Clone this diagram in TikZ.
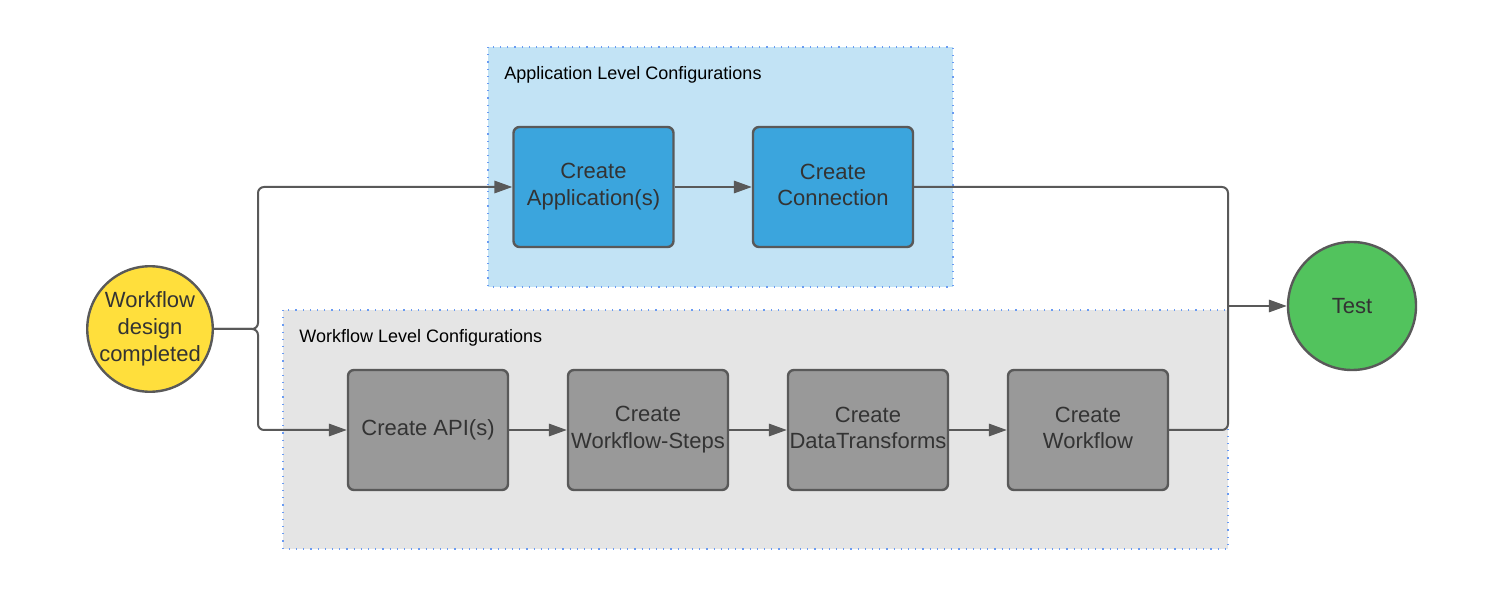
\documentclass[tikz,border=0pt]{standalone}
\usepackage{fontspec}
\setmainfont{Liberation Sans}
\usetikzlibrary{arrows.meta}
\definecolor{edge}{HTML}{595959}
\definecolor{txt}{HTML}{333333}
\definecolor{appbg}{HTML}{C2E3F5}
\definecolor{wfbg}{HTML}{E5E5E5}
\definecolor{dotblue}{HTML}{6A9BF2}
\definecolor{bluebox}{HTML}{3BA5DD}
\definecolor{graybox}{HTML}{999999}
\definecolor{startc}{HTML}{FFDF3C}
\definecolor{testc}{HTML}{52C35D}
\begin{document}
\begin{tikzpicture}[x=0.5pt,y=-0.5pt,
  container/.style={draw=dotblue,line width=0.6pt,dash pattern=on 0.6pt off 3pt},
  grouplabel/.style={anchor=west,inner sep=0pt,font=\fontsize{9}{11}\selectfont,text=black},
  stepbox/.style={draw=edge,line width=1.2pt,rounded corners=3pt,minimum width=80pt,minimum height=60pt,inner sep=0pt,align=center,text=txt,font=\fontsize{11}{13.4}\selectfont},
  endpoint/.style={circle,draw=edge,line width=1.2pt,inner sep=0pt,align=center,text=txt,font=\fontsize{11}{13.4}\selectfont},
  conn/.style={draw=edge,line width=1pt,rounded corners=3pt},
  arr/.style={conn,-{Triangle[length=9pt,width=6.2pt]}}]
\useasboundingbox (0,0) rectangle (1504,598);
% containers
\fill[appbg] (488,47) rectangle (953,287);
\draw[container] (488,47) rectangle (953,287);
\fill[wfbg] (283,310) rectangle (1228,549);
\draw[container] (283,310) rectangle (1228,549);
\node[grouplabel] (applabel) at (504,75) {Application Level Configurations};
\node[grouplabel] (wflabel) at (299,338) {Workflow Level Configurations};
% nodes
\node[endpoint,fill=startc,minimum size=62pt] (start) at (150,329) {Workflow\\design\\completed};
\node[endpoint,fill=testc,minimum size=64pt] (test) at (1352,306) {Test};
\node[stepbox,fill=bluebox] (app) at (593.5,187) {Create\\Application(s)\vphantom{()}};
\node[stepbox,fill=bluebox] (conn) at (833,187) {Create\\Connection\vphantom{()}};
\node[stepbox,fill=graybox] (api) at (428,430) {Create API(s)};
\node[stepbox,fill=graybox] (steps) at (648,430) {Create\\Workflow-Steps\vphantom{()}};
\node[stepbox,fill=graybox] (dt) at (868,430) {Create\\DataTransforms\vphantom{()}};
\node[stepbox,fill=graybox] (wf) at (1088,430) {Create\\Workflow\vphantom{()}};
\coordinate (split) at (258,329);
\coordinate (merge) at (1228,306);
% connectors
\draw[arr] (start.east) -- (split) |- (app.west);
\draw[arr] (start.east) -- (split) |- (api.west);
\draw[arr] (app.east) -- (conn.west);
\draw[arr] (api.east) -- (steps.west);
\draw[arr] (steps.east) -- (dt.west);
\draw[arr] (dt.east) -- (wf.west);
\draw[conn] (conn.east) -| (merge);
\draw[conn] (wf.east) -| (merge);
\draw[arr] (merge) -- (test.west);
\end{tikzpicture}
\end{document}
